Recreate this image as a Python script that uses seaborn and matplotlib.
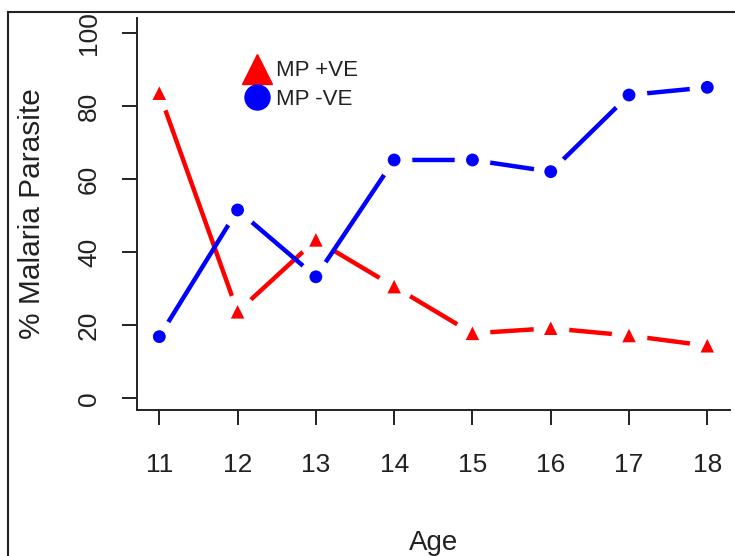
import matplotlib
matplotlib.use("Agg")
import matplotlib.pyplot as plt
import seaborn as sns
from matplotlib.lines import Line2D
from matplotlib.patches import Rectangle

# values
ages = [11, 12, 13, 14, 15, 16, 17, 18]
mp_pos = [83.6, 23.7, 43.4, 30.6, 17.8, 19.2, 17.2, 14.4]
mp_neg = [16.9, 51.6, 33.3, 65.3, 65.3, 62.1, 83.1, 85.2]
y_ticks = [0, 20, 40, 60, 80, 100]
series_labels = ["MP +VE", "MP -VE"]

sns.set_style("ticks")
plt.rcParams["font.family"] = ["Liberation Sans", "DejaVu Sans"]
txt = "#222222"

fig = plt.figure(figsize=(7.35, 5.56), dpi=100)
ax = fig.add_axes([137 / 735, 1 - 410 / 556, 593 / 735, 392 / 556])

# R type="b": line with gaps around the points (white discs hide line ends)
for vals, col, mk, ms in [(mp_pos, "red", "^", 95), (mp_neg, "blue", "o", 85)]:
    sns.lineplot(x=ages, y=vals, color=col, lw=3.2, marker="o", markersize=25,
                 markerfacecolor="white", markeredgecolor="white", ax=ax)
    sns.scatterplot(x=ages, y=vals, marker=mk, color=col, s=ms,
                    edgecolor="none", zorder=4, ax=ax)

ax.set_xlim(10.715, 18.29)
ax.set_ylim(-3.2, 104.2)
ax.set_xticks(ages)
ax.set_yticks(y_ticks)
ax.set_xticklabels([str(a) for a in ages])
ax.set_yticklabels([str(v) for v in y_ticks], rotation=90, va="center")

sns.despine(ax=ax)
for s in ["left", "bottom"]:
    ax.spines[s].set_linewidth(1.4)
    ax.spines[s].set_color(txt)
ax.tick_params(axis="both", length=11, width=1.4, color=txt, labelcolor=txt,
               labelsize=19)
ax.tick_params(axis="x", pad=20)
ax.tick_params(axis="y", pad=15)

ax.set_xlabel("Age", fontsize=20, color=txt, labelpad=38)
ax.set_ylabel("% Malaria Parasite", fontsize=21.5, color=txt, labelpad=22)

handles = [Line2D([], [], marker="^", color="red", ls="none", markersize=21),
           Line2D([], [], marker="o", color="blue", ls="none", markersize=18)]
ax.legend(handles, series_labels, loc="upper left", bbox_to_anchor=(0.163, 0.92),
          frameon=False, fontsize=16, handlelength=1.1, handletextpad=0.3,
          labelspacing=0.35, borderpad=0, labelcolor=txt)

# outer box around the picture (cut at right and bottom edges)
fig.add_artist(Rectangle((8 / 735, -0.1), 1.2, 1.1 + (1 - 12 / 556) - 1,
                         transform=fig.transFigure, fill=False,
                         lw=1.5, edgecolor=txt, clip_on=False))

fig.savefig("out.png", dpi=100)
